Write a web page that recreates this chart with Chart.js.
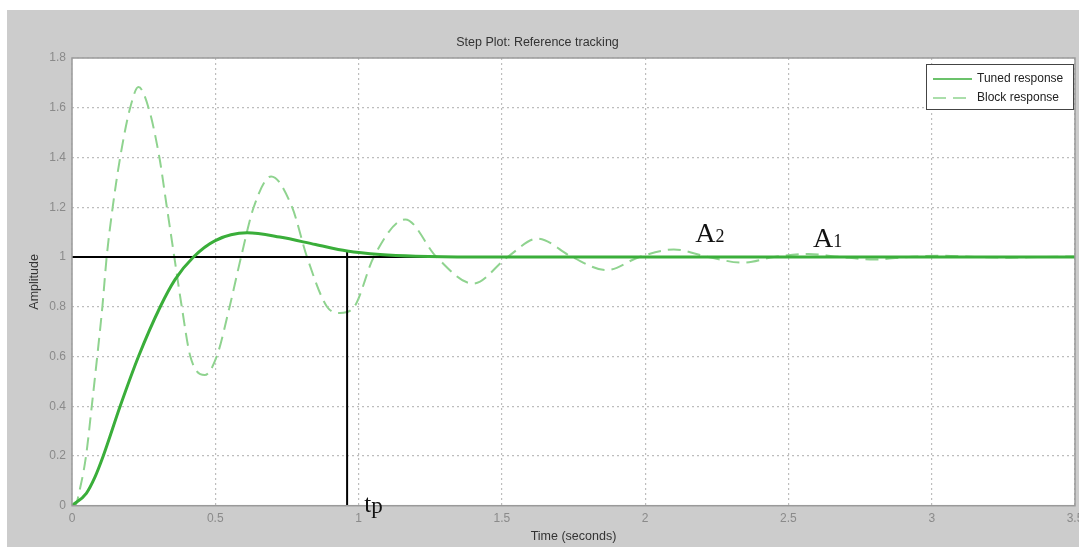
<!DOCTYPE html>
<html>
<head>
<meta charset="utf-8">
<script src="https://cdn.jsdelivr.net/npm/chart.js@4"></script>
<style>
  html, body { margin: 0; padding: 0; background: #fff; overflow: hidden; }
  #wrap { width: 1100px; height: 547px; }
</style>
</head>
<body>
<div id="wrap"><canvas id="stepChart" width="1100" height="547"></canvas></div>
<script>
// values
const xTicks = [0, 0.5, 1, 1.5, 2, 2.5, 3, 3.5];
const yTicks = [0, 0.2, 0.4, 0.6, 0.8, 1, 1.2, 1.4, 1.6, 1.8];

const tunedT = [0, 0.05, 0.08, 0.109, 0.168, 0.232, 0.308, 0.36, 0.424, 0.5, 0.611, 0.725, 0.85, 0.96, 1.075, 1.2, 1.4, 3.5];
const tunedY = [0, 0.05, 0.115, 0.2, 0.4, 0.6, 0.8, 0.91, 1.0, 1.066, 1.097, 1.08, 1.05, 1.024, 1.01, 1.003, 1.0, 1.0];

const blockT = [0, 0.01, 0.03, 0.049, 0.069, 0.088, 0.106, 0.121, 0.142, 0.168, 0.203, 0.232,
  0.267, 0.305, 0.331, 0.357, 0.383, 0.413, 0.463, 0.505, 0.55, 0.59, 0.634, 0.695,
  0.768, 0.82, 0.89, 0.935, 0.985, 1.053, 1.163, 1.272, 1.4, 1.52, 1.625, 1.745, 1.865,
  1.98, 2.1, 2.22, 2.34, 2.45, 2.57, 2.68, 2.8, 2.92, 3.03, 3.15, 3.27, 3.38, 3.5];
const blockY = [0, 0, 0.08, 0.2, 0.4, 0.6, 0.8, 1.0, 1.2, 1.4, 1.6, 1.683,
  1.6, 1.4, 1.2, 1.0, 0.8, 0.6, 0.525, 0.6, 0.8, 1.0, 1.2, 1.324,
  1.2, 1.0, 0.8, 0.775, 0.8, 1.0, 1.151, 1.0, 0.893, 1.0, 1.074, 1.0, 0.947,
  1.0, 1.03, 1.0, 0.977, 1.0, 1.012, 1.0, 0.99, 1.0, 1.005, 1.0, 0.997, 1.0, 1.002];

const refLevel = 1;
const peakTime = 0.96;
const peakTimeValue = 1.024;

// hand-written annotations: [text, subscript, t, amplitude]
const notes = [
  ['A', '2', 2.175, 1.06],
  ['A', '1', 2.586, 1.04],
  ['t', 'p', 1.02, -0.025]
];

const toPoints = (ts, ys) => ts.map((t, i) => ({ x: t, y: ys[i] }));
const FONT = '"Liberation Sans", Arial, sans-serif';

const frame = {
  id: 'frame',
  beforeDraw(chart) {
    const { ctx, chartArea: a } = chart;
    ctx.save();
    ctx.fillStyle = '#ffffff';
    ctx.fillRect(0, 0, chart.width, chart.height);
    ctx.fillStyle = '#cccccc';
    ctx.fillRect(7, 10, chart.width, chart.height);
    ctx.fillStyle = '#ffffff';
    ctx.fillRect(a.left, a.top, a.right - a.left, a.bottom - a.top);
    ctx.restore();
  },
  afterDraw(chart) {
    const { ctx, chartArea: a, scales } = chart;
    ctx.save();
    ctx.strokeStyle = '#9a9a9a';
    ctx.lineWidth = 1.5;
    ctx.strokeRect(a.left, a.top, a.right - a.left, a.bottom - a.top);

    // annotations
    ctx.fillStyle = '#111111';
    ctx.textBaseline = 'alphabetic';
    notes.forEach(([main, sub, t, v]) => {
      const x = scales.x.getPixelForValue(t);
      const y = scales.y.getPixelForValue(v);
      const big = main === 't' ? 25 : 28;
      ctx.font = big + 'px "Liberation Serif", serif';
      ctx.fillText(main, x, y);
      const w = ctx.measureText(main).width;
      ctx.font = (main === 't' ? 23 : 18) + 'px "Liberation Serif", serif';
      ctx.fillText(sub, x + w, y + (main === 't' ? 1 : 0));
    });

    // legend box
    const lx = 926, ly = 64, lw = 147, lh = 45;
    ctx.fillStyle = '#ffffff';
    ctx.fillRect(lx, ly, lw, lh);
    ctx.strokeStyle = '#444444';
    ctx.lineWidth = 1;
    ctx.strokeRect(lx + 0.5, ly + 0.5, lw, lh);
    ctx.font = '12px ' + FONT;
    ctx.textBaseline = 'middle';
    [0, 1].forEach((di, i) => {
      const ds = chart.data.datasets[di];
      const yy = ly + 15 + i * 19;
      ctx.strokeStyle = ds.borderColor;
      ctx.lineWidth = 1.5;
      ctx.setLineDash(ds.borderDash || []);
      ctx.beginPath();
      ctx.moveTo(lx + 7, yy);
      ctx.lineTo(lx + 46, yy);
      ctx.stroke();
      ctx.setLineDash([]);
      ctx.fillStyle = '#222222';
      ctx.fillText(ds.label, lx + 51, yy);
    });
    ctx.restore();
  }
};

const gridOpts = { color: '#bdbdbd', lineWidth: 1.2, drawTicks: false };
const borderOpts = { display: false, dash: [2, 3] };

new Chart(document.getElementById('stepChart').getContext('2d'), {
  type: 'line',
  data: {
    datasets: [
      {
        label: 'Tuned response',
        data: toPoints(tunedT, tunedY),
        borderColor: '#3aae3a',
        borderWidth: 3,
        pointRadius: 0,
        cubicInterpolationMode: 'monotone',
        order: 0
      },
      {
        label: 'Block response',
        data: toPoints(blockT, blockY),
        borderColor: '#8fd38f',
        borderWidth: 2,
        borderDash: [13, 7],
        pointRadius: 0,
        cubicInterpolationMode: 'monotone',
        order: 2
      },
      {
        label: 'reference',
        data: [{ x: xTicks[0], y: refLevel }, { x: xTicks[xTicks.length - 1], y: refLevel }],
        borderColor: '#000000',
        borderWidth: 2,
        pointRadius: 0,
        order: 1
      },
      {
        label: 'peak time',
        data: [{ x: peakTime, y: 0 }, { x: peakTime, y: peakTimeValue }],
        borderColor: '#000000',
        borderWidth: 2,
        pointRadius: 0,
        order: 1
      }
    ]
  },
  options: {
    responsive: false,
    animation: false,
    devicePixelRatio: 1,
    layout: { padding: { top: 10, right: 25, left: 0, bottom: 0 } },
    plugins: {
      legend: { display: false },
      tooltip: { enabled: false },
      title: {
        display: true,
        text: 'Step Plot: Reference tracking',
        color: '#333333',
        font: { family: FONT, size: 12.5, weight: 'normal' },
        padding: { top: 25.5, bottom: 7.5 }
      }
    },
    scales: {
      x: {
        type: 'linear',
        min: 0,
        max: 3.5,
        afterBuildTicks: s => { s.ticks = xTicks.map(v => ({ value: v })); },
        afterFit: s => { s.height = 41.3; },
        grid: gridOpts,
        border: borderOpts,
        ticks: {
          color: '#8a8a8a',
          padding: 6,
          maxRotation: 0,
          callback: v => String(v),
          font: { family: FONT, size: 12 }
        },
        title: {
          display: true,
          text: 'Time (seconds)',
          color: '#333333',
          font: { family: FONT, size: 12.5 },
          padding: { top: 0, bottom: 2.5 }
        }
      },
      y: {
        min: 0,
        max: 1.8,
        afterBuildTicks: s => { s.ticks = yTicks.map(v => ({ value: v })); },
        afterFit: s => { s.width = 72; },
        grid: gridOpts,
        border: borderOpts,
        ticks: {
          color: '#8a8a8a',
          padding: 6,
          callback: v => String(v),
          font: { family: FONT, size: 12 }
        },
        title: {
          display: true,
          text: 'Amplitude',
          color: '#333333',
          font: { family: FONT, size: 12.5 },
          padding: { top: 27.5, bottom: 0 }
        }
      }
    }
  },
  plugins: [frame]
});
</script>
</body>
</html>
